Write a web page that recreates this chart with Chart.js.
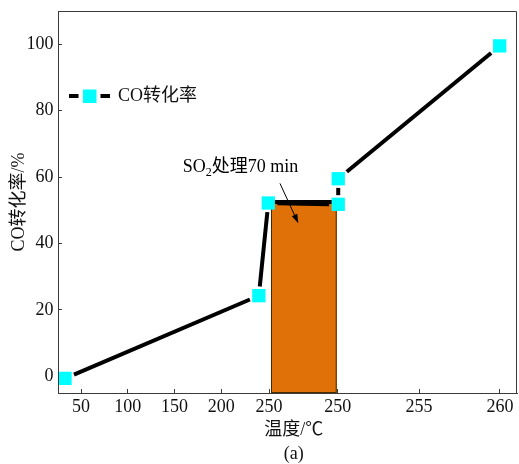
<!DOCTYPE html>
<html>
<head>
<meta charset="utf-8">
<script src="https://cdn.jsdelivr.net/npm/chart.js@4/dist/chart.umd.min.js"></script>
<style>
  html, body { margin: 0; padding: 0; background: #fff; }
</style>
</head>
<body>
<canvas id="chart_co" width="519" height="464"></canvas>
<script>
// x positions are along a broken temperature axis, so they are stored in "axis units"
const seriesName = 'CO转化率';
const xPos = [32.9, 240.2, 250.3, 325.1, 325.1, 497.8];
const coConv = [-0.6, 24.3, 52.2, 51.8, 59.5, 99.5];

const xTickPos = [50, 100, 150, 200, 251.1, 324.5, 411.5, 498.1];
const xTickLabels = ['50', '100', '150', '200', '250', '250', '255', '260'];
const yTicks = [0, 20, 40, 60, 80, 100];

const so2Window = [253.2, 323.5];
const so2Top = 52.5;
const noteText = ['SO', '2', '处理70 min'];

const FONT = "'Liberation Serif', 'Noto Sans CJK SC', serif";
const AXIS = '#3a3a3a';
const MARK = 9.4;          // rect point radius (side = r * sqrt2)
const GAP = 2.5;

Chart.defaults.font.family = FONT;
Chart.defaults.font.size = 18;
Chart.defaults.color = '#111';

// legend icon: line - square - line
const legendIcon = document.createElement('canvas');
legendIcon.width = 41;
legendIcon.height = 14;
(() => {
    const c = legendIcon.getContext('2d');
    c.fillStyle = '#000';
    c.fillRect(0, 5, 9.5, 4);
    c.fillRect(31.5, 5, 9.5, 4);
    c.fillStyle = '#00FFFF';
    c.fillRect(14, 0.5, 13.5, 13.5);
})();

// line gap next to each marker, like the origin plot
function segDash(ctx) {
    const dx = ctx.p1.x - ctx.p0.x, dy = ctx.p1.y - ctx.p0.y;
    const L = Math.hypot(dx, dy);
    if (!L) return [0, 1000];
    const half = MARK * Math.SQRT1_2;
    const g = half / Math.max(Math.abs(dx) / L, Math.abs(dy) / L) + GAP;
    const d = L - 2 * g;
    return d > 0 ? [0, g, d, 1000] : [0, 1000];
}

// no extra label padding, the frame is fixed
function noPad(s) {
    s.paddingTop = 0;
    s.paddingBottom = 0;
    s.paddingLeft = 0;
    s.paddingRight = 0;
}

const so2Box = {
    id: 'so2Box',
    beforeDatasetsDraw(chart) {
        const { ctx, scales: { x, y } } = chart;
        const l = x.getPixelForValue(so2Window[0]);
        const r = x.getPixelForValue(so2Window[1]);
        const t = y.getPixelForValue(so2Top);
        const b = y.getPixelForValue(y.min);
        ctx.save();
        ctx.fillStyle = '#E07008';
        ctx.fillRect(l, t, r - l, b - t);
        ctx.strokeStyle = '#4a2a00';
        ctx.lineWidth = 1;
        ctx.strokeRect(l + 0.5, t + 0.5, r - l - 1, b - t - 1);
        ctx.strokeStyle = '#000';
        ctx.lineWidth = 4;
        ctx.beginPath();
        ctx.moveTo(l, t);
        ctx.lineTo(r, t);
        ctx.stroke();
        ctx.restore();
    }
};

const so2Note = {
    id: 'so2Note',
    afterDatasetsDraw(chart) {
        const { ctx, chartArea, scales: { x, y } } = chart;
        let px = x.getPixelForValue(158.8);
        const py = y.getPixelForValue(61.6);
        ctx.save();
        ctx.fillStyle = '#000';
        ctx.textBaseline = 'alphabetic';
        ctx.font = '18px ' + FONT;
        ctx.fillText(noteText[0], px, py);
        px += ctx.measureText(noteText[0]).width;
        ctx.font = '12px ' + FONT;
        ctx.fillText(noteText[1], px, py + 4);
        px += ctx.measureText(noteText[1]).width;
        ctx.font = '18px ' + FONT;
        ctx.fillText(noteText[2], px, py);

        // arrow
        const x0 = x.getPixelForValue(262.8), y0 = y.getPixelForValue(58.1);
        const x1 = x.getPixelForValue(282.4), y1 = y.getPixelForValue(46.1);
        const a = Math.atan2(y1 - y0, x1 - x0);
        ctx.strokeStyle = '#000';
        ctx.lineWidth = 1;
        ctx.beginPath();
        ctx.moveTo(x0, y0);
        ctx.lineTo(x1 - 6 * Math.cos(a), y1 - 6 * Math.sin(a));
        ctx.stroke();
        ctx.beginPath();
        ctx.moveTo(x1, y1);
        ctx.lineTo(x1 - 9 * Math.cos(a) + 3 * Math.sin(a), y1 - 9 * Math.sin(a) - 3 * Math.cos(a));
        ctx.lineTo(x1 - 9 * Math.cos(a) - 3 * Math.sin(a), y1 - 9 * Math.sin(a) + 3 * Math.cos(a));
        ctx.closePath();
        ctx.fill();

        // top and right edges of the frame
        ctx.strokeStyle = AXIS;
        ctx.beginPath();
        ctx.moveTo(Math.round(chartArea.left) + 0.5, Math.round(chartArea.top) + 0.5);
        ctx.lineTo(Math.round(chartArea.right) - 0.5, Math.round(chartArea.top) + 0.5);
        ctx.lineTo(Math.round(chartArea.right) - 0.5, Math.round(chartArea.bottom));
        ctx.stroke();
        ctx.restore();
    }
};

document.addEventListener('DOMContentLoaded', () => {
    const ctx = document.getElementById('chart_co').getContext('2d');
    new Chart(ctx, {
        type: 'line',
        data: {
            datasets: [{
                label: seriesName,
                data: xPos.map((v, i) => ({ x: v, y: coConv[i] })),
                borderColor: '#000',
                borderWidth: 4,
                backgroundColor: '#00FFFF',
                pointStyle: 'rect',
                pointRadius: MARK,
                pointHoverRadius: MARK,
                pointBackgroundColor: '#00FFFF',
                pointBorderWidth: 0,
                tension: 0,
                clip: false,
                segment: { borderDash: segDash }
            }]
        },
        plugins: [so2Box, so2Note],
        options: {
            responsive: false,
            animation: false,
            layout: { autoPadding: false, padding: { top: 11, right: 2, left: 0, bottom: 0 } },
            plugins: {
                tooltip: { enabled: false },
                legend: {
                    position: 'chartArea',
                    align: 'start',
                    title: { display: true, text: '', padding: { top: 74, bottom: 0 }, font: { size: 1, lineHeight: 1 } },
                    labels: {
                        usePointStyle: true,
                        pointStyle: legendIcon,
                        pointStyleWidth: 39,
                        padding: 12,
                        color: '#111',
                        font: { size: 18 }
                    }
                }
            },
            scales: {
                x: {
                    type: 'linear',
                    min: 25.4,
                    max: 516.3,
                    afterBuildTicks: s => { s.ticks = xTickPos.map(v => ({ value: v })); },
                    afterFit: s => { s.height = 71; noPad(s); },
                    ticks: {
                        callback: (v, i) => xTickLabels[i],
                        autoSkip: false,
                        maxRotation: 0,
                        padding: 7,
                        color: '#111'
                    },
                    grid: { drawOnChartArea: false, tickLength: -4, color: AXIS },
                    border: { color: AXIS, width: 1, z: 1 },
                    title: {
                        display: true,
                        text: ['\u2002\u2009温度/℃', '\u2002\u2009(a)'],
                        color: '#111',
                        font: { size: 18, lineHeight: 1.33 },
                        padding: { top: 0, bottom: -2 }
                    }
                },
                y: {
                    type: 'linear',
                    min: -5,
                    max: 110,
                    afterBuildTicks: s => { s.ticks = yTicks.map(v => ({ value: v })); },
                    afterFit: s => { s.width = 58; noPad(s); },
                    ticks: { padding: 8.5, color: '#111' },
                    grid: { drawOnChartArea: false, tickLength: -4, color: AXIS },
                    border: { color: AXIS, width: 1, z: 1 },
                    title: {
                        display: true,
                        text: 'CO转化率/%',
                        color: '#111',
                        font: { size: 18 },
                        padding: { top: 8, bottom: 0 }
                    }
                }
            }
        }
    });
});
</script>
</body>
</html>
